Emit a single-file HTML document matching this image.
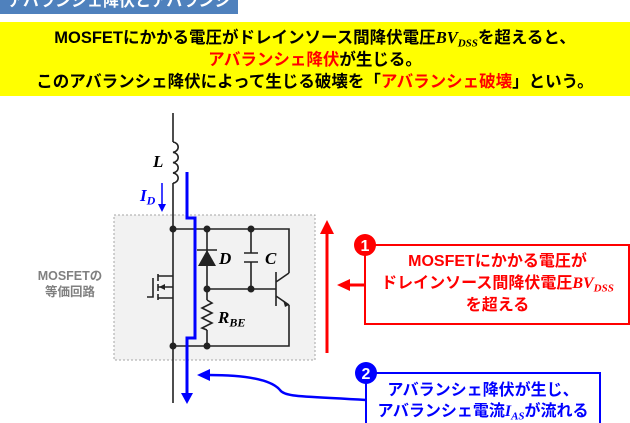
<!DOCTYPE html>
<html><head><meta charset="utf-8"><style>
body{margin:0;width:630px;height:423px;overflow:hidden;background:#fff;font-family:"Liberation Sans","Noto Sans CJK JP",sans-serif;position:relative}
.t{position:absolute;font-weight:bold;white-space:nowrap}
.ital{font-family:"Liberation Serif",serif;font-style:italic;font-weight:bold}
sub{line-height:0;vertical-align:-0.3em}
</style></head><body>
<div style="position:absolute;left:0;top:-9px;width:238px;height:23px;background:#4f81bd;color:#fff;font-weight:bold;font-size:16px;line-height:22px;text-align:center;overflow:hidden">アバランシェ降伏とアバランシェ破壊</div>
<div style="position:absolute;left:0;top:22px;width:630px;height:74px;background:#ffff00"></div>
<div class="t" style="left:0;width:630px;top:27px;text-align:center;font-size:16.5px;line-height:22px">MOSFETにかかる電圧がドレインソース間降伏電圧<span class="ital">BV<sub style="font-size:11px">DSS</sub></span>を超えると、<br><span style="color:#f00">アバランシェ降伏</span>が生じる。<br>このアバランシェ降伏によって生じる破壊を「<span style="color:#f00">アバランシェ破壊</span>」という。</div>

<svg width="630" height="423" style="position:absolute;left:0;top:0">
<rect x="114" y="215" width="201" height="145" fill="#f2f2f2" stroke="#a6a6a6" stroke-dasharray="2,2"/>
<g stroke="#222" stroke-width="1.6" fill="none">
<path d="M173 113V142 M173 183V403"/>
<path d="M173 142a6 5.2 0 0 1 0 10.3a6 5.2 0 0 1 0 10.3a6 5.2 0 0 1 0 10.3a6 5.2 0 0 1 0 10.3"/>
<path d="M173 229H289V273M173 346H289V305M207 229V300M207 330V346M207 289H276M251 229V253M251 262V289"/>
<path d="M244 253H258M244 262H258"/>
<path d="M207 300l5 3-10 5 10 5-10 5 10 5-10 5 5 2"/>
<path d="M276 272V306M276 282L289 273M276 296L289 305"/>
<path d="M197 250H217"/>
<path d="M147 297H153V278M158 274V281M158 284V291M158 294V300M158 276H173M158 298H173M158 287H173"/>
</g>
<polygon points="198,250 216,250 207,266" fill="#222" transform="rotate(180 207 258)"/>
<polygon points="289,305 283,300 285,307" fill="#222"/>
<polygon points="159,287 165,284 165,290" fill="#222"/>
<g fill="#222"><circle cx="173" cy="229" r="3.5"/><circle cx="207" cy="229" r="3.5"/><circle cx="251" cy="229" r="3.5"/><circle cx="207" cy="289" r="3.5"/><circle cx="251" cy="289" r="3.5"/><circle cx="173" cy="346" r="3.5"/><circle cx="207" cy="346" r="3.5"/></g>
<path d="M187 172V218H195V338H187V394" stroke="#00f" stroke-width="3" fill="none"/>
<polygon points="181,393 193,393 187,404" fill="#00f"/>
<path d="M162 183V206" stroke="#00f" stroke-width="1.5"/><polygon points="158,204 166,204 162,212" fill="#00f"/>
<path d="M327 353V232" stroke="#f00" stroke-width="3"/><polygon points="320,234 334,234 327,220" fill="#f00"/>
<path d="M365 285H348" stroke="#f00" stroke-width="3"/><polygon points="350,279 350,291 337,285" fill="#f00"/>
<rect x="365" y="245" width="264" height="79" fill="#fff" stroke="#f00" stroke-width="2"/>
<circle cx="365" cy="245" r="11" fill="#f00"/><text x="365" y="251" font-size="16" font-weight="bold" fill="#fff" text-anchor="middle" font-family="Liberation Sans">1</text>
<path d="M366 400C300 396 285 397 280 390C270 378 240 375 208 375" stroke="#00f" stroke-width="2.5" fill="none"/>
<polygon points="210,369 210,381 197,375" fill="#00f"/>
<rect x="366" y="373" width="234" height="60" fill="#fff" stroke="#00f" stroke-width="2"/>
<circle cx="366" cy="373" r="11" fill="#00f"/><text x="366" y="379" font-size="16" font-weight="bold" fill="#fff" text-anchor="middle" font-family="Liberation Sans">2</text>
</svg>
<div class="t ital" style="left:153px;top:152px;font-size:17px">L</div>
<div class="t ital" style="left:140px;top:186px;font-size:17px;color:#00f">I<sub style="font-size:12px">D</sub></div>
<div class="t ital" style="left:219px;top:249px;font-size:17px">D</div>
<div class="t ital" style="left:265px;top:249px;font-size:17px">C</div>
<div class="t ital" style="left:218px;top:308px;font-size:17px">R<sub style="font-size:12px">BE</sub></div>
<div class="t" style="left:20px;width:100px;top:268px;text-align:center;font-size:12.5px;line-height:16px;color:#808080">MOSFETの<br>等価回路</div>
<div class="t" style="left:366px;width:263px;top:251px;text-align:center;font-size:16px;line-height:22px;color:#f00">MOSFETにかかる電圧が<br>ドレインソース間降伏電圧<span class="ital">BV<sub style="font-size:11px">DSS</sub></span><br>を超える</div>
<div class="t" style="left:366px;width:234px;top:380px;text-align:center;font-size:16px;line-height:21px;color:#00f">アバランシェ降伏が生じ、<br>アバランシェ電流<span class="ital">I<sub style="font-size:11px">AS</sub></span>が流れる</div>
</body></html>
